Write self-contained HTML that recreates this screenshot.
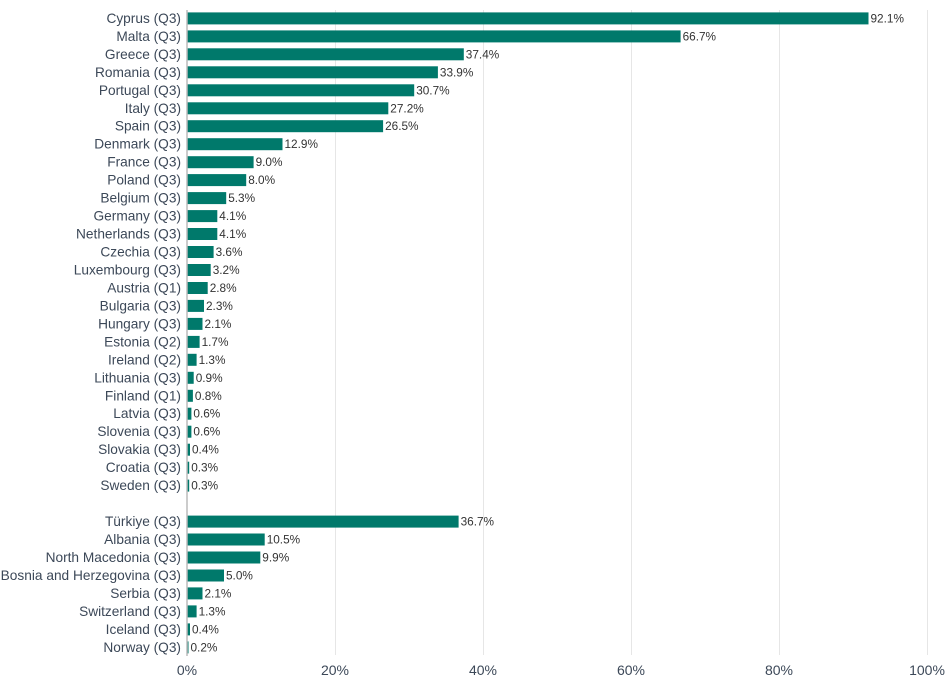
<!DOCTYPE html>
<html><head><meta charset="utf-8"><style>
body{margin:0;background:#fff}
svg{display:block}
.l{font:13.7px "Liberation Sans",sans-serif;fill:#3c4858;text-anchor:end}
.v{font:11.8px "Liberation Sans",sans-serif;fill:#333}
.t{font:14px "Liberation Sans",sans-serif;fill:#3c4858;text-anchor:middle}
rect{fill:#00796b}
</style></head><body>
<svg width="950" height="680" xmlns="http://www.w3.org/2000/svg">
<g stroke="#e6e6e6" stroke-width="1">
<line x1="335.5" y1="10" x2="335.5" y2="655"/><line x1="483.5" y1="10" x2="483.5" y2="655"/><line x1="631.5" y1="10" x2="631.5" y2="655"/><line x1="779.5" y1="10" x2="779.5" y2="655"/><line x1="927.5" y1="10" x2="927.5" y2="655"/>
</g>
<g transform="translate(0,-0.6)">
<g transform="translate(0,19)"><text class="l" x="181" y="4.5">Cyprus (Q3)</text><rect x="187" y="-6" width="681.5" height="12"/><text class="v" x="870.5" y="4">92.1%</text></g>
<g transform="translate(0,37)"><text class="l" x="181" y="4.5">Malta (Q3)</text><rect x="187" y="-6" width="493.6" height="12"/><text class="v" x="682.6" y="4">66.7%</text></g>
<g transform="translate(0,54.9)"><text class="l" x="181" y="4.5">Greece (Q3)</text><rect x="187" y="-6" width="276.8" height="12"/><text class="v" x="465.8" y="4">37.4%</text></g>
<g transform="translate(0,72.9)"><text class="l" x="181" y="4.5">Romania (Q3)</text><rect x="187" y="-6" width="250.9" height="12"/><text class="v" x="439.9" y="4">33.9%</text></g>
<g transform="translate(0,90.9)"><text class="l" x="181" y="4.5">Portugal (Q3)</text><rect x="187" y="-6" width="227.2" height="12"/><text class="v" x="416.2" y="4">30.7%</text></g>
<g transform="translate(0,108.9)"><text class="l" x="181" y="4.5">Italy (Q3)</text><rect x="187" y="-6" width="201.3" height="12"/><text class="v" x="390.3" y="4">27.2%</text></g>
<g transform="translate(0,126.8)"><text class="l" x="181" y="4.5">Spain (Q3)</text><rect x="187" y="-6" width="196.1" height="12"/><text class="v" x="385.1" y="4">26.5%</text></g>
<g transform="translate(0,144.8)"><text class="l" x="181" y="4.5">Denmark (Q3)</text><rect x="187" y="-6" width="95.5" height="12"/><text class="v" x="284.5" y="4">12.9%</text></g>
<g transform="translate(0,162.8)"><text class="l" x="181" y="4.5">France (Q3)</text><rect x="187" y="-6" width="66.6" height="12"/><text class="v" x="255.6" y="4">9.0%</text></g>
<g transform="translate(0,180.7)"><text class="l" x="181" y="4.5">Poland (Q3)</text><rect x="187" y="-6" width="59.2" height="12"/><text class="v" x="248.2" y="4">8.0%</text></g>
<g transform="translate(0,198.7)"><text class="l" x="181" y="4.5">Belgium (Q3)</text><rect x="187" y="-6" width="39.2" height="12"/><text class="v" x="228.2" y="4">5.3%</text></g>
<g transform="translate(0,216.7)"><text class="l" x="181" y="4.5">Germany (Q3)</text><rect x="187" y="-6" width="30.3" height="12"/><text class="v" x="219.3" y="4">4.1%</text></g>
<g transform="translate(0,234.6)"><text class="l" x="181" y="4.5">Netherlands (Q3)</text><rect x="187" y="-6" width="30.3" height="12"/><text class="v" x="219.3" y="4">4.1%</text></g>
<g transform="translate(0,252.6)"><text class="l" x="181" y="4.5">Czechia (Q3)</text><rect x="187" y="-6" width="26.6" height="12"/><text class="v" x="215.6" y="4">3.6%</text></g>
<g transform="translate(0,270.6)"><text class="l" x="181" y="4.5">Luxembourg (Q3)</text><rect x="187" y="-6" width="23.7" height="12"/><text class="v" x="212.7" y="4">3.2%</text></g>
<g transform="translate(0,288.6)"><text class="l" x="181" y="4.5">Austria (Q1)</text><rect x="187" y="-6" width="20.7" height="12"/><text class="v" x="209.7" y="4">2.8%</text></g>
<g transform="translate(0,306.5)"><text class="l" x="181" y="4.5">Bulgaria (Q3)</text><rect x="187" y="-6" width="17" height="12"/><text class="v" x="206" y="4">2.3%</text></g>
<g transform="translate(0,324.5)"><text class="l" x="181" y="4.5">Hungary (Q3)</text><rect x="187" y="-6" width="15.5" height="12"/><text class="v" x="204.5" y="4">2.1%</text></g>
<g transform="translate(0,342.5)"><text class="l" x="181" y="4.5">Estonia (Q2)</text><rect x="187" y="-6" width="12.6" height="12"/><text class="v" x="201.6" y="4">1.7%</text></g>
<g transform="translate(0,360.4)"><text class="l" x="181" y="4.5">Ireland (Q2)</text><rect x="187" y="-6" width="9.6" height="12"/><text class="v" x="198.6" y="4">1.3%</text></g>
<g transform="translate(0,378.4)"><text class="l" x="181" y="4.5">Lithuania (Q3)</text><rect x="187" y="-6" width="6.7" height="12"/><text class="v" x="195.7" y="4">0.9%</text></g>
<g transform="translate(0,396.4)"><text class="l" x="181" y="4.5">Finland (Q1)</text><rect x="187" y="-6" width="5.9" height="12"/><text class="v" x="194.9" y="4">0.8%</text></g>
<g transform="translate(0,414.3)"><text class="l" x="181" y="4.5">Latvia (Q3)</text><rect x="187" y="-6" width="4.4" height="12"/><text class="v" x="193.4" y="4">0.6%</text></g>
<g transform="translate(0,432.3)"><text class="l" x="181" y="4.5">Slovenia (Q3)</text><rect x="187" y="-6" width="4.4" height="12"/><text class="v" x="193.4" y="4">0.6%</text></g>
<g transform="translate(0,450.3)"><text class="l" x="181" y="4.5">Slovakia (Q3)</text><rect x="187" y="-6" width="3" height="12"/><text class="v" x="192" y="4">0.4%</text></g>
<g transform="translate(0,468.3)"><text class="l" x="181" y="4.5">Croatia (Q3)</text><rect x="187" y="-6" width="2.2" height="12"/><text class="v" x="191.2" y="4">0.3%</text></g>
<g transform="translate(0,486.2)"><text class="l" x="181" y="4.5">Sweden (Q3)</text><rect x="187" y="-6" width="2.2" height="12"/><text class="v" x="191.2" y="4">0.3%</text></g>
<g transform="translate(0,522.2)"><text class="l" x="181" y="4.5">Türkiye (Q3)</text><rect x="187" y="-6" width="271.6" height="12"/><text class="v" x="460.6" y="4">36.7%</text></g>
<g transform="translate(0,540.1)"><text class="l" x="181" y="4.5">Albania (Q3)</text><rect x="187" y="-6" width="77.7" height="12"/><text class="v" x="266.7" y="4">10.5%</text></g>
<g transform="translate(0,558.1)"><text class="l" x="181" y="4.5">North Macedonia (Q3)</text><rect x="187" y="-6" width="73.3" height="12"/><text class="v" x="262.3" y="4">9.9%</text></g>
<g transform="translate(0,576.1)"><text class="l" x="181" y="4.5">Bosnia and Herzegovina (Q3)</text><rect x="187" y="-6" width="37" height="12"/><text class="v" x="226" y="4">5.0%</text></g>
<g transform="translate(0,594)"><text class="l" x="181" y="4.5">Serbia (Q3)</text><rect x="187" y="-6" width="15.5" height="12"/><text class="v" x="204.5" y="4">2.1%</text></g>
<g transform="translate(0,612)"><text class="l" x="181" y="4.5">Switzerland (Q3)</text><rect x="187" y="-6" width="9.6" height="12"/><text class="v" x="198.6" y="4">1.3%</text></g>
<g transform="translate(0,630)"><text class="l" x="181" y="4.5">Iceland (Q3)</text><rect x="187" y="-6" width="3" height="12"/><text class="v" x="192" y="4">0.4%</text></g>
<g transform="translate(0,648)"><text class="l" x="181" y="4.5">Norway (Q3)</text><rect x="187" y="-6" width="1.5" height="12"/><text class="v" x="190.5" y="4">0.2%</text></g>
</g>
<line x1="187" y1="10" x2="187" y2="656" stroke="#bbb" stroke-width="1.5"/>
<text class="t" x="187" y="675">0%</text>
<text class="t" x="335" y="675">20%</text>
<text class="t" x="483" y="675">40%</text>
<text class="t" x="631" y="675">60%</text>
<text class="t" x="779" y="675">80%</text>
<text class="t" x="927" y="675">100%</text>
</svg>
</body></html>
